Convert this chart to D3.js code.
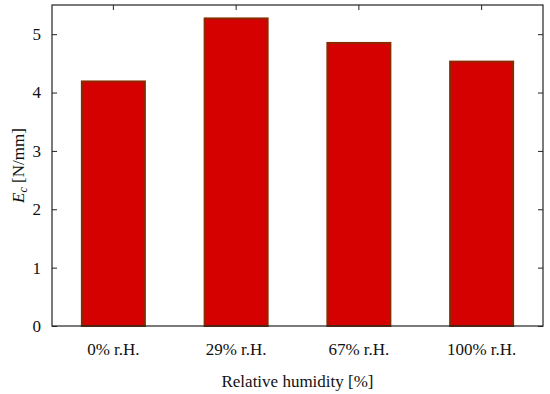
<!DOCTYPE html>
<html>
<head>
<meta charset="utf-8">
<script src="https://cdn.jsdelivr.net/npm/d3@7"></script>
<style>
  body { margin: 0; background: #fff; }
  text { font-family: "Liberation Serif", serif; fill: #111; }
</style>
</head>
<body>
<script>
// values
var categories = ["0% r.H.", "29% r.H.", "67% r.H.", "100% r.H."];
var modulus = [4.19, 5.27, 4.85, 4.53];
var yTicks = [0, 1, 2, 3, 4, 5];

var width = 550, height = 394;
var margin = {left: 52, top: 5, right: 7, bottom: 68};

var svg = d3.select("body").append("svg")
    .attr("width", width)
    .attr("height", height);

var xc = d3.scaleBand()
    .domain(categories)
    .range([margin.left, width - margin.right]);

var y = d3.scaleLinear()
    .domain([0, 5.5])
    .range([height - margin.bottom, margin.top]);

// bars
svg.selectAll("rect.bar")
    .data(modulus)
    .enter()
    .append("rect")
    .attr("class", "bar")
    .attr("x", function (d, i) { return xc(categories[i]) + xc.bandwidth() / 2 - 31.5; })
    .attr("width", 63)
    .attr("y", function (d) { return y(d); })
    .attr("height", function (d) { return y(0) - y(d); })
    .style("fill", "#d50000")
    .style("stroke", "#8a2a00")
    .style("stroke-width", 2);

// frame
svg.append("rect")
    .attr("x", margin.left)
    .attr("y", margin.top)
    .attr("width", width - margin.left - margin.right)
    .attr("height", height - margin.top - margin.bottom)
    .style("fill", "none")
    .style("stroke", "#222")
    .style("stroke-width", 1.2);

// left axis, ticks inward
var yAxis = d3.axisLeft(y).tickValues(yTicks).tickSize(-5).tickPadding(11).tickFormat(d3.format("d"));
var gy = svg.append("g")
    .attr("transform", "translate(" + margin.left + ",0)")
    .call(yAxis);
gy.select(".domain").remove();
gy.selectAll("text").style("font-size", "17px").attr("font-family", null);

// right mirror ticks
var gyr = svg.append("g")
    .attr("transform", "translate(" + (width - margin.right) + ",0)")
    .call(d3.axisRight(y).tickValues(yTicks).tickSize(-5).tickFormat(""));
gyr.select(".domain").remove();

// bottom axis labels
var gx = svg.append("g")
    .attr("transform", "translate(0," + (height - margin.bottom) + ")")
    .call(d3.axisBottom(xc).tickSize(0).tickPadding(17));
gx.select(".domain").remove();
gx.selectAll("text").style("font-size", "17px").attr("font-family", null);

// top mirror ticks
var gxt = svg.append("g")
    .attr("transform", "translate(0," + margin.top + ")")
    .call(d3.axisTop(xc).tickSize(-5).tickFormat(""));
gxt.select(".domain").remove();

svg.selectAll(".tick line").style("stroke", "#222");

// axis titles
svg.append("text")
    .attr("x", (margin.left + width - margin.right) / 2)
    .attr("y", 387)
    .attr("text-anchor", "middle")
    .style("font-size", "17px")
    .text("Relative humidity [%]");

var yl = svg.append("text")
    .attr("transform", "translate(24," + ((margin.top + height - margin.bottom) / 2) + ") rotate(-90)")
    .attr("text-anchor", "middle")
    .style("font-size", "17px");
yl.append("tspan").style("font-style", "italic").text("E");
yl.append("tspan").style("font-style", "italic").style("font-size", "12px").attr("dy", 3).text("c");
yl.append("tspan").attr("dy", -3).text(" [N/mm]");
</script>
</body>
</html>
